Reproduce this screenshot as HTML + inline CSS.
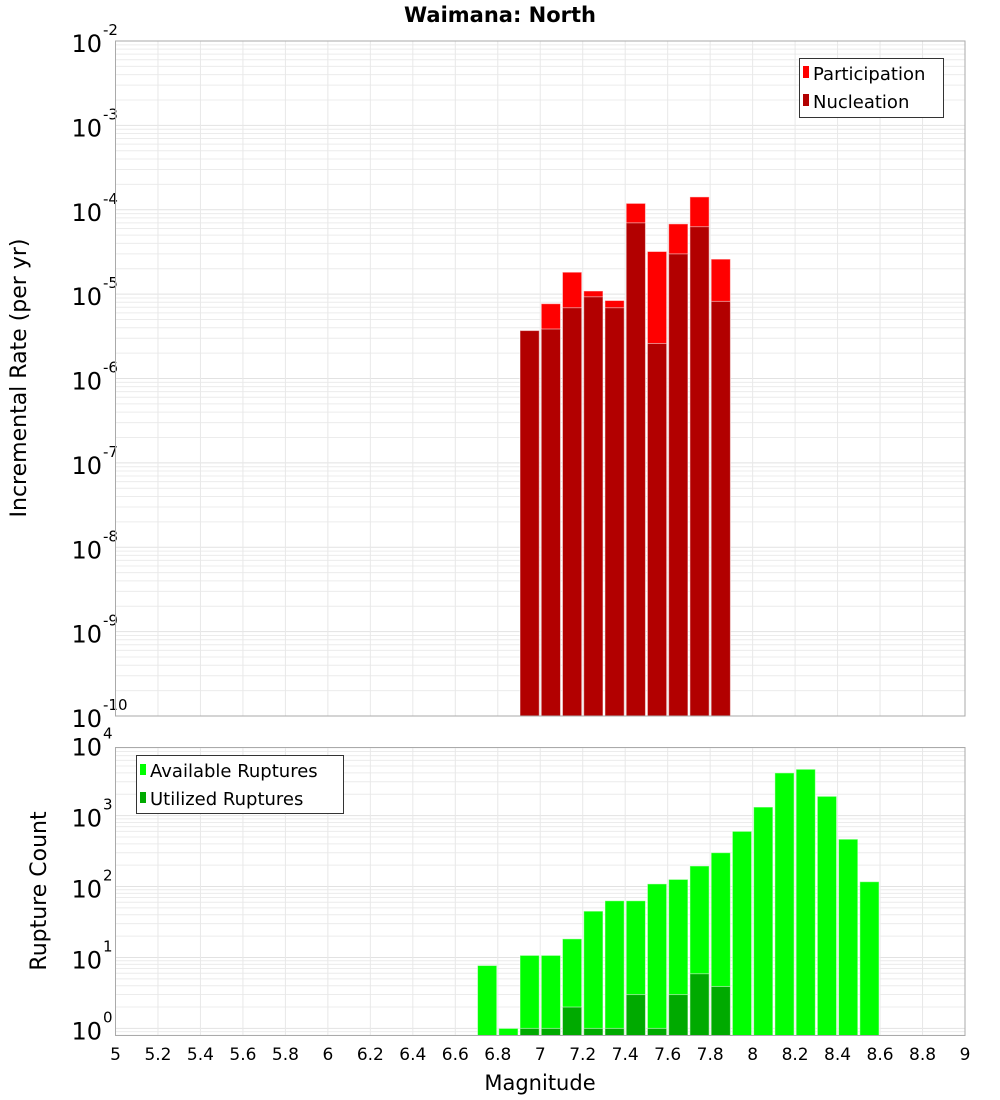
<!DOCTYPE html>
<html><head><meta charset="utf-8"><style>
body{margin:0;background:#fff;}
svg{display:block;font-family:"Liberation Sans","DejaVu Sans",sans-serif;}
</style></head><body>
<svg id="chart" width="1000" height="1100" xmlns="http://www.w3.org/2000/svg">
<text x="500" y="22" text-anchor="middle" font-size="21" font-weight="bold" font-family="DejaVu Sans, sans-serif">Waimana: North</text>
<g id="top"></g>
<g id="bot"></g>
<text transform="translate(26,378) rotate(-90)" text-anchor="middle" font-size="22" font-family="DejaVu Sans, sans-serif">Incremental Rate (per yr)</text>
<text transform="translate(46,891) rotate(-90)" text-anchor="middle" font-size="22" font-family="DejaVu Sans, sans-serif">Rupture Count</text>
<text x="540" y="1090" text-anchor="middle" font-size="21" font-family="DejaVu Sans, sans-serif">Magnitude</text>
</svg>
<script>
const rateMags = [6.95,7.05,7.15,7.25,7.35,7.45,7.55,7.65,7.75,7.85];
const participation = [3.7e-6,7.7e-6,1.82e-5,1.09e-5,8.4e-6,1.19e-4,3.2e-5,6.8e-5,1.42e-4,2.6e-5];
const nucleation = [3.7e-6,3.86e-6,6.9e-6,9.3e-6,6.9e-6,7.0e-5,2.6e-6,3.0e-5,6.3e-5,8.2e-6];
const countMags = [6.75,6.85,6.95,7.05,7.15,7.25,7.35,7.45,7.55,7.65,7.75,7.85,7.95,8.05,8.15,8.25,8.35,8.45,8.55];
const available = [7.7,1,10.7,10.7,18.3,45,63,63,109,126,195,300,600,1320,4000,4500,1870,465,117];
const utilizedMags = [6.95,7.05,7.15,7.25,7.35,7.45,7.55,7.65,7.75,7.85];
const utilized = [1,1,2,1,1,3,1,3,5.9,3.9];
const xTicks = [5,5.2,5.4,5.6,5.8,6,6.2,6.4,6.6,6.8,7,7.2,7.4,7.6,7.8,8,8.2,8.4,8.6,8.8,9];
const rateExps = [-2,-3,-4,-5,-6,-7,-8,-9,-10];
const countExps = [0,1,2,3,4];

const NS="http://www.w3.org/2000/svg";
const X0=115.5,X1=965;
const xs=m=>X0+(m-5)/4*(X1-X0);
function mk(parent,tag,attrs){const e=document.createElementNS(NS,tag);for(const k in attrs)e.setAttribute(k,attrs[k]);parent.appendChild(e);return e;}

function panel(g,top,bot,lmin,lmax,exps,name){
  const ys=v=>bot-(Math.log10(v)-lmin)/(lmax-lmin)*(bot-top);
  mk(g,'rect',{x:X0,y:top,width:X1-X0,height:bot-top,fill:'#fff'});
  for(let d=Math.floor(lmin);d<=Math.ceil(lmax);d++){
    for(let k=1;k<10;k++){const lv=d+Math.log10(k);if(lv<lmin||lv>lmax)continue;
      const y=ys(Math.pow(10,lv));
      const l=mk(g,'line',{x1:X0,x2:X1,y1:y,y2:y,stroke:k==1?'#e2e2e2':'#ececec','stroke-width':1});
      
      }
  }
  xTicks.forEach(t=>{const x=xs(t);const l=mk(g,'line',{x1:x,x2:x,y1:top,y2:bot,stroke:'#e8e8e8'});
    
    });
  exps.forEach(e=>{const y=ys(Math.pow(10,e));
    const t=mk(g,'text',{x:102,y:y+11,'text-anchor':'end','font-size':24,'font-family':'DejaVu Sans, sans-serif'});t.textContent='10';
    
    
    const s=mk(g,'text',{x:103,y:y-6,'font-size':15,'font-family':'DejaVu Sans, sans-serif'});s.textContent=String(e);
    
    });
  return ys;
}
function bars(g,mags,vals,ys,bot,fill,name){
  mags.forEach((m,i)=>{const x=xs(m-0.05)+1,w=xs(m+0.05)-xs(m-0.05)-2;const y=ys(vals[i]);
    const r=mk(g,'rect',{x:x,y:y,width:w,height:bot-y,fill:fill,stroke:'#ffffff','stroke-opacity':0.5,'stroke-width':1});
    
    });
}
function frame(g,top,bot){mk(g,'rect',{x:X0,y:top,width:X1-X0,height:bot-top,fill:'none',stroke:'#aaaaaa','stroke-width':1});}

// top panel
const gt=document.getElementById('top');
const T0=41,T1=716;
const ysT=panel(gt,T0,T1,-10,-2,rateExps,'rate');
bars(gt,rateMags,participation,ysT,T1,'#ff0000','participation-bar');
bars(gt,rateMags,nucleation,ysT,T1,'#b20000','nucleation-bar');
frame(gt,T0,T1);
// top legend
const lg=mk(gt,'g',{});
mk(lg,'rect',{x:799.5,y:58.5,width:144,height:59,fill:'#fff',stroke:'#333'});
mk(lg,'rect',{x:803,y:66,width:6,height:12,fill:'#ff0000'});
mk(lg,'rect',{x:803,y:94,width:6,height:12,fill:'#b20000'});
let t=mk(lg,'text',{x:813,y:80,'font-size':18,'font-family':'DejaVu Sans, sans-serif'});t.textContent='Participation';
t=mk(lg,'text',{x:813,y:108,'font-size':18,'font-family':'DejaVu Sans, sans-serif'});t.textContent='Nucleation';

// bottom panel
const gb=document.getElementById('bot');
const B0=747.5,B1=1035.5;
const ysB=panel(gb,B0,B1,-0.1,3.96,countExps,'count');
bars(gb,countMags,available,ysB,B1,'#00ff00','available-bar');
bars(gb,utilizedMags,utilized,ysB,B1,'#00aa00','utilized-bar');
frame(gb,B0,B1);
const lb=mk(gb,'g',{});
mk(lb,'rect',{x:136.5,y:755.5,width:207,height:58,fill:'#fff',stroke:'#333'});
mk(lb,'rect',{x:140,y:764,width:6,height:11,fill:'#00ff00'});
mk(lb,'rect',{x:140,y:792,width:6,height:11,fill:'#00aa00'});
t=mk(lb,'text',{x:150,y:777,'font-size':18,'font-family':'DejaVu Sans, sans-serif'});t.textContent='Available Ruptures';
t=mk(lb,'text',{x:150,y:805,'font-size':18,'font-family':'DejaVu Sans, sans-serif'});t.textContent='Utilized Ruptures';

// x tick labels
const svg=document.getElementById('chart');
xTicks.forEach(v=>{const e=mk(svg,'text',{x:xs(v),y:1060,'text-anchor':'middle','font-size':17,'font-family':'DejaVu Sans, sans-serif'});
  e.textContent=String(v);
  
  });
</script>
</body></html>
